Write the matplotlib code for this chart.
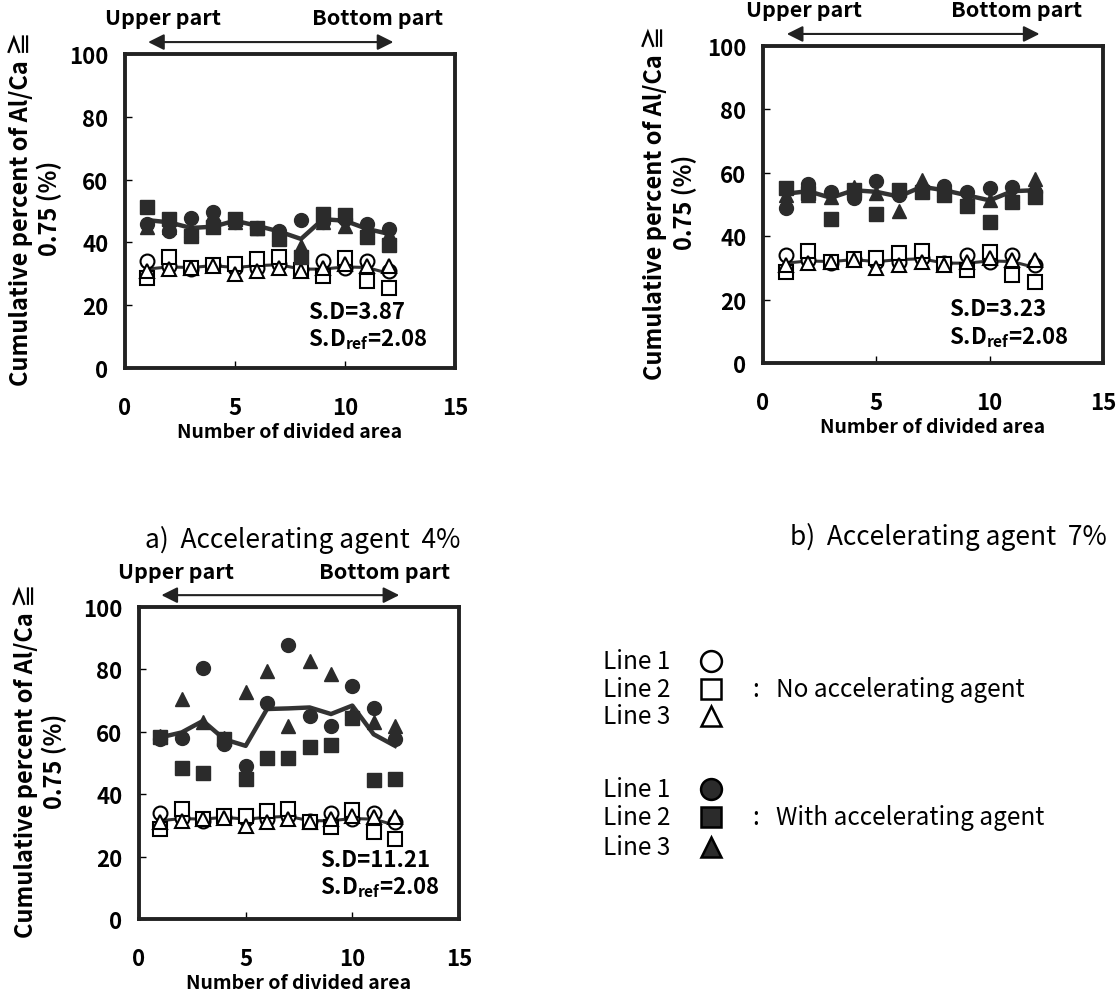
import matplotlib
matplotlib.use('Agg')
import matplotlib.pyplot as plt
from matplotlib.lines import Line2D

plt.rcParams['font.family'] = ['Noto Sans CJK JP', 'DejaVu Sans']
plt.rcParams['mathtext.fontset'] = 'custom'
plt.rcParams['mathtext.bf'] = 'Noto Sans CJK JP:bold'
plt.rcParams['mathtext.rm'] = 'Noto Sans CJK JP'

# divided area number
area = [1, 2, 3, 4, 5, 6, 7, 8, 9, 10, 11, 12]

# no accelerating agent (same in all three panels)
open_l1 = [34.1, 32.5, 31.5, 32.8, 32.0, 32.0, 33.0, 31.5, 34.1, 32.0, 34.1, 31.0]
open_l2 = [28.8, 35.2, 32.0, 32.9, 33.1, 34.7, 35.2, 31.2, 29.4, 35.0, 27.8, 25.6]
open_l3 = [31.0, 31.5, 32.0, 32.5, 29.9, 31.0, 32.0, 31.0, 32.0, 33.0, 32.6, 32.6]
open_line = [31.5, 32.2, 32.0, 32.6, 32.0, 32.6, 32.9, 31.5, 31.5, 32.2, 32.0, 30.1]

# a) accelerating agent 4%
a_l1 = [46.0, 43.7, 47.8, 49.6, 46.4, 44.5, 43.7, 47.1, 46.4, 47.5, 45.9, 44.3]
a_l2 = [51.2, 47.4, 42.1, 45.0, 47.4, 44.5, 41.1, 35.2, 49.0, 48.8, 41.6, 39.3]
a_l3 = [45.0, 45.0, 44.0, 49.0, 46.4, 44.5, 42.6, 38.9, 46.4, 45.3, 44.0, 42.7]
a_line = [47.1, 46.4, 44.6, 45.0, 46.9, 45.3, 43.5, 41.1, 47.4, 46.9, 44.3, 42.7]

# b) accelerating agent 7%
b_l1 = [48.9, 56.6, 54.0, 51.9, 57.4, 53.0, 55.0, 55.9, 53.8, 55.3, 55.6, 54.0]
b_l2 = [55.2, 53.5, 45.5, 54.5, 47.1, 54.5, 54.0, 52.9, 49.5, 44.4, 50.8, 52.4]
b_l3 = [53.0, 53.1, 52.5, 55.6, 53.5, 48.1, 57.7, 55.0, 52.5, 51.3, 53.0, 58.2]
b_line = [53.4, 54.2, 52.1, 54.5, 54.0, 52.5, 55.6, 54.5, 52.9, 51.3, 54.2, 54.5]

# c) accelerating agent 10%
c_l1 = [57.6, 58.0, 80.5, 56.0, 49.0, 69.2, 87.7, 65.1, 61.7, 74.6, 67.5, 57.6]
c_l2 = [58.2, 48.3, 46.9, 57.6, 44.8, 51.7, 51.5, 55.0, 55.8, 64.3, 44.5, 45.0]
c_l3 = [58.5, 70.5, 63.3, 58.0, 72.6, 79.6, 61.7, 82.8, 78.5, 66.0, 63.0, 61.9]
c_line = [58.2, 59.8, 63.5, 57.6, 55.5, 67.3, 67.5, 67.8, 65.7, 68.4, 59.2, 55.5]

sd_text = ['3.87', '3.23', '11.21']
sd_ref = '2.08'

W, H = 1119, 995
DARK = '#2b2b2b'


def rect(l, t, r, b):
    return [l / W, 1 - b / H, (r - l) / W, (b - t) / H]


def draw_panel(ax, filled, line, sd, sd_pos, part_x, ylab_x):
    l1, l2, l3 = filled
    ax.plot(area, line, color='#333333', lw=3.2, zorder=2)
    ax.plot(area, open_line, color='#333333', lw=2.2, zorder=2)
    ms = 10
    ax.plot(area, open_l1, 'o', ms=ms, mfc='white', mec='black', mew=1.5, ls='none', zorder=3)
    ax.plot(area, open_l2, 's', ms=ms, mfc='white', mec='black', mew=1.5, ls='none', zorder=3)
    ax.plot(area, open_l3, '^', ms=ms, mfc='white', mec='black', mew=1.5, ls='none', zorder=3)
    ax.plot(area, l1, 'o', ms=ms, color=DARK, ls='none', zorder=3)
    ax.plot(area, l2, 's', ms=ms, color=DARK, ls='none', zorder=3)
    ax.plot(area, l3, '^', ms=ms, color=DARK, ls='none', zorder=3)

    ax.set_xlim(0, 15)
    ax.set_ylim(0, 100)
    ax.set_xticks([0, 5, 10, 15])
    ax.set_yticks([0, 20, 40, 60, 80, 100])
    ax.tick_params(direction='in', length=5, width=1, labelsize=16)
    ax.tick_params(axis='x', pad=20)
    ax.tick_params(axis='y', pad=12)
    for t in ax.get_xticklabels() + ax.get_yticklabels():
        t.set_fontweight('bold')
    for s in ax.spines.values():
        s.set_linewidth(2.8)
        s.set_color('#222222')
    ax.set_xlabel('Number of divided area', fontsize=14, fontweight='bold', labelpad=2)
    ax.set_ylabel('Cumulative percent of Al/Ca \u2267\n0.75 (%)', fontsize=17,
                  fontweight='bold', linespacing=1.2)
    ax.yaxis.set_label_coords(ylab_x, 0.51)

    sx, sy1, sy2 = sd_pos
    ax.text(sx, sy1, 'S.D=' + sd, fontsize=16, fontweight='bold', va='center')
    ax.text(sx, sy2, 'S.D$_{\\mathbf{ref}}$=' + sd_ref, fontsize=16, fontweight='bold', va='center')

    # upper / bottom arrow
    ax.annotate('', xy=(1.05, 103.8), xytext=(12.2, 103.8), annotation_clip=False,
                arrowprops=dict(arrowstyle='<|-|>', color='#222222', lw=1.5,
                                mutation_scale=24, shrinkA=0, shrinkB=0))
    ax.text(part_x[0], 111.5, 'Upper part', fontsize=15.5, fontweight='bold', ha='center',
            va='center', clip_on=False)
    ax.text(part_x[1], 111.5, 'Bottom part', fontsize=15.5, fontweight='bold', ha='center',
            va='center', clip_on=False)


fig = plt.figure(figsize=(W / 100, H / 100), dpi=100)

ax_a = fig.add_axes(rect(125, 55, 455, 369))
draw_panel(ax_a, (a_l1, a_l2, a_l3), a_line, sd_text[0], (8.3, 18, 9.3), (1.73, 11.5), -0.19)

ax_b = fig.add_axes(rect(763, 47, 1103, 364))
draw_panel(ax_b, (b_l1, b_l2, b_l3), b_line, sd_text[1], (8.2, 17.3, 8.3), (1.8, 11.2), -0.195)

ax_c = fig.add_axes(rect(139, 608, 459, 920))
draw_panel(ax_c, (c_l1, c_l2, c_l3), c_line, sd_text[2], (8.5, 19.2, 10.3), (1.75, 11.5), -0.225)

fig.text(145 / W, 1 - 540 / H, 'a)  Accelerating agent  4%', fontsize=19, va='center')
fig.text(790 / W, 1 - 537 / H, 'b)  Accelerating agent  7%', fontsize=19, va='center')

# legend block
leg_rows = [(662, 'Line 1', 'o', 'white'), (690, 'Line 2', 's', 'white'), (717, 'Line 3', '^', 'white'),
            (790, 'Line 1', 'o', DARK), (818, 'Line 2', 's', DARK), (848, 'Line 3', '^', DARK)]
for y, name, mk, fc in leg_rows:
    fig.text(603 / W, 1 - y / H, name, fontsize=17.5, va='center')
    fig.add_artist(Line2D([711 / W], [1 - y / H], marker=mk, ms=15, mfc=fc, mec='black',
                          mew=1.8, ls='none', transform=fig.transFigure))
fig.text(752 / W, 1 - 690 / H, ':', fontsize=17.5, va='center')
fig.text(776 / W, 1 - 690 / H, 'No accelerating agent', fontsize=17.5, va='center')
fig.text(752 / W, 1 - 818 / H, ':', fontsize=17.5, va='center')
fig.text(776 / W, 1 - 818 / H, 'With accelerating agent', fontsize=17.5, va='center')

fig.savefig('out.png', dpi=100)
